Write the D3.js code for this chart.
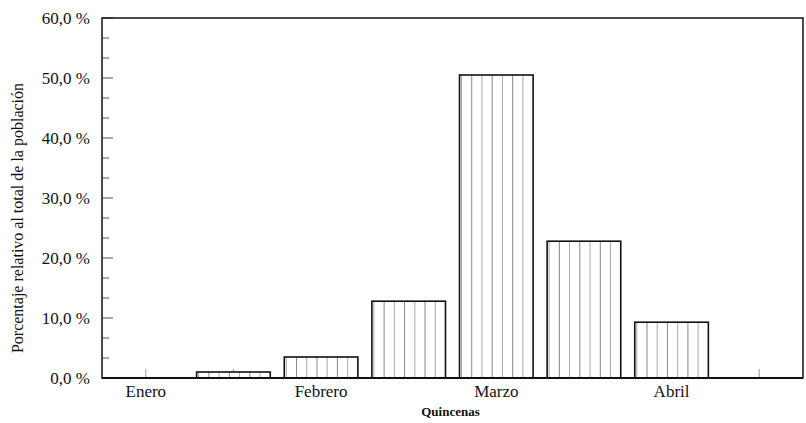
<!DOCTYPE html>
<html>
<head>
<meta charset="utf-8">
<script src="https://cdn.jsdelivr.net/npm/d3@7"></script>
<style>
  body { margin: 0; background: #fff; }
</style>
</head>
<body>
<div id="chart"></div>
<script>
// Quincenas (two per month); only every other one carries a month label
const quincenas = ["Ene-1", "Ene-2", "Feb-1", "Feb-2", "Mar-1", "Mar-2", "Abr-1", "Abr-2"];
const monthLabels = ["Enero", "", "Febrero", "", "Marzo", "", "Abril", ""];
const porcentajes = [0, 1.0, 3.5, 12.8, 50.5, 22.8, 9.3, 0];
const yTicks = [0, 10, 20, 30, 40, 50, 60];

const W = 806, H = 423;
const M = { top: 18, right: 3, bottom: 45, left: 102 };
const innerW = W - M.left - M.right;
const innerH = H - M.top - M.bottom;
const FONT = "Liberation Serif";

const svg = d3.select("#chart").append("svg").attr("width", W).attr("height", H)
  .attr("font-family", FONT);
const g = svg.append("g").attr("transform", `translate(${M.left},${M.top})`);

const x = d3.scaleBand().domain(quincenas).range([0, innerW]).paddingInner(0.16).paddingOuter(0.08);
const y = d3.scaleLinear().domain([0, 60]).range([innerH, 0]);

// minor y ticks (every 10/3) inside the frame
const minor = d3.range(0, 60.01, 10 / 3);
g.append("g").selectAll("line").data(minor).join("line")
  .attr("x1", 0).attr("x2", (d) => (Math.abs(d % 10) < 0.01 || Math.abs(d % 10 - 10) < 0.01) ? 11 : 7)
  .attr("y1", (d) => y(d)).attr("y2", (d) => y(d))
  .attr("stroke", "#555").attr("stroke-width", 1);

// y labels
g.append("g").selectAll("text").data(yTicks).join("text")
  .attr("x", -12).attr("y", (d) => y(d) + 6)
  .attr("text-anchor", "end").attr("font-size", 17).attr("fill", "#111")
  .attr("font-family", FONT)
  .text((d) => d.toFixed(1).replace(".", ",") + " %");

// x ticks at each band centre, pointing up
g.append("g").selectAll("line").data(quincenas).join("line")
  .attr("x1", (d) => x(d) + x.bandwidth() / 2).attr("x2", (d) => x(d) + x.bandwidth() / 2)
  .attr("y1", innerH).attr("y2", innerH - 9)
  .attr("stroke", "#999").attr("stroke-width", 1);

// bars with vertical hatching
const bars = g.append("g").selectAll("g.bar")
  .data(quincenas.map((q, i) => ({ q, v: porcentajes[i] })).filter((d) => d.v > 0))
  .join("g").attr("class", "bar");

bars.each(function (d) {
  const b = d3.select(this);
  const x0 = x(d.q), bw = x.bandwidth();
  const n = 7;
  b.append("rect")
    .attr("x", x0).attr("y", y(d.v)).attr("width", bw).attr("height", innerH - y(d.v))
    .attr("fill", "#fff");
  b.selectAll("line").data(d3.range(1, n)).join("line")
    .attr("x1", (i) => x0 + 2 + i * (bw - 2) / n).attr("x2", (i) => x0 + 2 + i * (bw - 2) / n)
    .attr("y1", y(d.v)).attr("y2", innerH)
    .attr("stroke", (i) => i % 2 ? "#888" : "#aaa").attr("stroke-width", 1);
  b.append("line")
    .attr("x1", x0 + 2).attr("x2", x0 + 2).attr("y1", y(d.v)).attr("y2", innerH)
    .attr("stroke", "#aaa");
  b.append("rect")
    .attr("x", x0).attr("y", y(d.v)).attr("width", bw).attr("height", innerH - y(d.v))
    .attr("fill", "none").attr("stroke", "#111").attr("stroke-width", 1.6);
});

// frame
g.append("rect").attr("x", 0).attr("y", 0).attr("width", innerW).attr("height", innerH)
  .attr("fill", "none").attr("stroke", "#111").attr("stroke-width", 1.5);
g.append("line").attr("x1", 0).attr("x2", innerW).attr("y1", innerH).attr("y2", innerH)
  .attr("stroke", "#111").attr("stroke-width", 2);

// month labels
g.append("g").selectAll("text").data(quincenas).join("text")
  .attr("x", (d) => x(d) + x.bandwidth() / 2).attr("y", innerH + 19)
  .attr("text-anchor", "middle").attr("font-size", 17).attr("fill", "#111")
  .attr("font-family", FONT)
  .text((d, i) => monthLabels[i]);

// axis titles
svg.append("text")
  .attr("x", M.left + innerW / 2 - 2).attr("y", 416)
  .attr("text-anchor", "middle").attr("font-size", 13).attr("font-weight", "bold").attr("fill", "#111")
  .attr("font-family", FONT)
  .text("Quincenas");

svg.append("text")
  .attr("transform", `translate(23,${M.top + innerH / 2 + 20}) rotate(-90)`)
  .attr("text-anchor", "middle").attr("font-size", 16).attr("fill", "#111")
  .attr("font-family", FONT)
  .text("Porcentaje relativo al total de la población");
</script>
</body>
</html>
